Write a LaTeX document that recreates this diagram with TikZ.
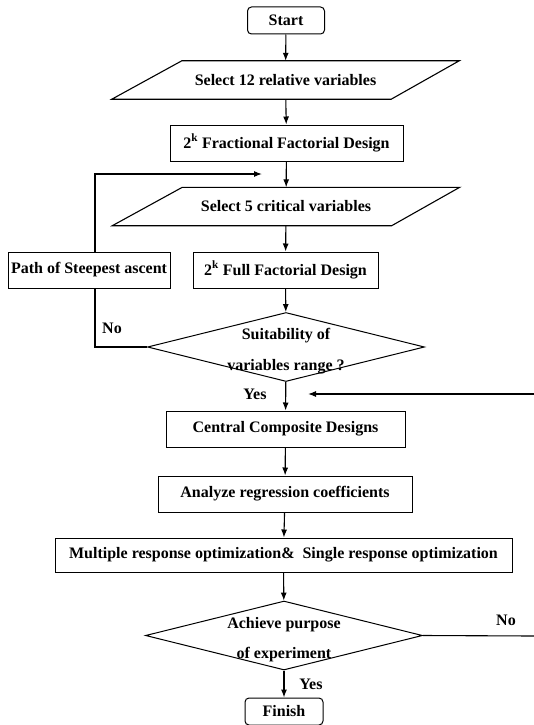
\documentclass[tikz,border=0pt]{standalone}
\usepackage{fontspec}
\setmainfont{Liberation Serif}
\usetikzlibrary{shapes.geometric,arrows.meta,positioning}
\newcommand{\flowfont}{\fontsize{16}{18}\selectfont\bfseries}
\newcommand{\toppad}{\rule{0pt}{20pt}}

\tikzset{
  procbox/.style={draw, rectangle, line width=1pt, minimum height=36pt, inner sep=2pt, font=\flowfont},
  termbox/.style={draw, rectangle, rounded corners=4pt, line width=1pt, minimum height=27pt, font=\flowfont},
  iobox/.style={rectangle, minimum width=347pt, minimum height=38pt, font=\flowfont},
  decision/.style={draw, diamond, aspect=4, inner xsep=-5pt, inner ysep=-14pt, line width=1pt,
    minimum width=277pt, minimum height=69pt, align=center, font=\flowfont},
  tag/.style={font=\flowfont},
  link/.style={line width=1.1pt},
  arr/.style={line width=1.1pt, -{Latex[length=8pt,width=6pt]}}
}

\begin{document}
\begin{tikzpicture}[x=1pt,y=-1pt]
  \useasboundingbox (0,0) rectangle (534,725);

  % Main column
  \node[termbox, minimum width=77pt] (start) at (286,20.5) {Start};
  \node[iobox] (sel12) at (285.5,80) {Select 12 relative variables};
  \node[procbox, minimum width=233pt] (frac) at (286.5,143) {2\textsuperscript{k} Fractional Factorial Design};
  \node[iobox] (sel5) at (286,206.5) {Select 5 critical variables};
  \node[procbox, minimum width=185pt] (full) at (285.5,270) {2\textsuperscript{k} Full Factorial Design};
  \node[decision] (suit) at (286,347) {\toppad Suitability of\\[13pt]variables range ?};
  \node[procbox, minimum width=239pt] (ccd) at (285.5,429) {Central Composite Designs};
  \node[procbox, minimum width=254pt] (reg) at (285,494) {Analyze regression coefficients};
  \node[procbox, minimum width=457pt, minimum height=34pt] (opt) at (283.5,555)
    {Multiple response optimization\&\ \ Single response optimization};
  \node[decision] (ach) at (284,635.5) {\toppad Achieve purpose\\[12pt]of experiment};
  \node[termbox, minimum width=78pt] (fin) at (284,711.5) {Finish};

  % Side box
  \node[procbox, minimum width=162pt] (steep) at (89,270) {Path of Steepest ascent};

  % Input parallelograms
  \foreach \n in {sel12,sel5}
    \draw[link] ([xshift=70pt]\n.north west) -- (\n.north east)
      -- ([xshift=-68pt]\n.south east) -- (\n.south west) -- cycle;

  % Labels
  \node[tag] (no1) at (112,328) {No};
  \node[tag] (yes1) at (255,394) {Yes};
  \node[tag] (no2) at (506,620) {No};
  \node[tag] (yes2) at (311,684) {Yes};

  % Free ends
  \coordinate (loopin) at (262,174);
  \coordinate (backin) at (308,394);
  \coordinate (backout) at (534,394);
  \coordinate (noout) at (534,636);

  % Connectors
  \draw[arr] (start) -- (sel12);
  \draw[arr] (sel12) -- (frac);
  \draw[arr] (frac) -- (sel5);
  \draw[arr] (sel5) -- (full);
  \draw[arr] (full) -- (suit);
  \draw[arr] (suit) -- (ccd);
  \draw[arr] (ccd) -- (reg);
  \draw[arr] (reg) -- (opt);
  \draw[arr] (opt) -- (ach);
  \draw[arr] (ach) -- (fin);

  % Loop back
  \draw[arr] ([xshift=6pt]steep.north) |- (loopin);
  \draw[link] (suit.west) -| ([xshift=6pt]steep.south);
  \draw[link] (ach.east) -- (noout);
  \draw[arr] (backout) -- (backin);
\end{tikzpicture}
\end{document}
